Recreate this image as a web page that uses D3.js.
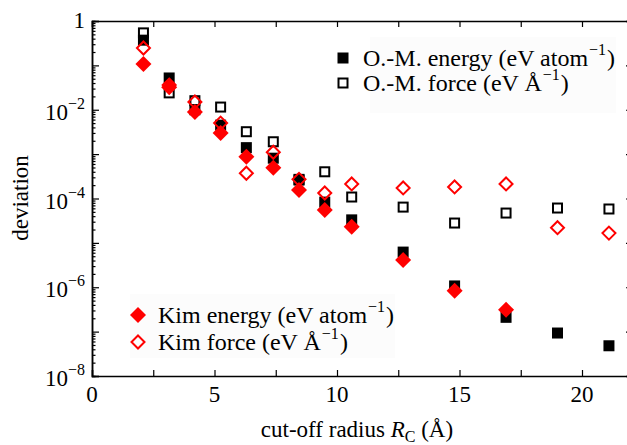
<!DOCTYPE html>
<html>
<head>
<meta charset="utf-8">
<script src="https://cdn.jsdelivr.net/npm/d3@7"></script>
<style>
  body { margin: 0; background: #fff; }
  svg { font-family: "Liberation Serif", "Times New Roman", serif; }
</style>
</head>
<body>
<div id="chart"></div>
<script>
// cut-off radius (Å)
var radii = [2.1, 3.15, 4.2, 5.25, 6.3, 7.4, 8.45, 9.5, 10.6, 12.7, 14.8, 16.9, 19.0, 21.1];

var omEnergy = [0.37, 0.052, 0.01, 0.0045, 0.0014, 0.00081, 0.00026, 8.3e-5, 3.3e-5, 6.2e-6, 1.07e-6, 2.1e-7, 9.3e-8, 4.8e-8];
var omForce = [0.54, 0.024, 0.016, 0.0115, 0.0032, 0.0019, 0.00027, 0.0004, 0.000108, 6.4e-5, 2.8e-5, 4.7e-5, 6.1e-5, 5.8e-5];
var kimEnergy = [0.107, 0.032, 0.0089, 0.003, 0.00087, 0.00049, 0.000155, 5.5e-5, 2.3e-5, 4.1e-6, 8.3e-7, 3.1e-7];
var kimForce = [0.246, 0.036, 0.015, 0.005, 0.00037, 0.0011, 0.00027, 0.000133, 0.000213, 0.000173, 0.000182, 0.000213, 2.2e-5, 1.66e-5];

var xTicks = [0, 5, 10, 15, 20];
var yExponents = [0, -2, -4, -6, -8];

var width = 627, height = 445;
var margin = { left: 92, top: 21, right: -4, bottom: 69 };

var svg = d3.select("#chart").append("svg")
    .attr("width", width)
    .attr("height", height);

var x = d3.scaleLinear().domain([0, 22]).range([margin.left, width - margin.right]);
var y = d3.scaleLog().domain([1e-8, 1]).range([height - margin.bottom, margin.top]);

// faint legend boxes
svg.append("rect").attr("x", 370).attr("y", 37).attr("width", 246).attr("height", 76).attr("fill", "#fcfcfc");
svg.append("rect").attr("x", 130).attr("y", 294).attr("width", 265).attr("height", 64).attr("fill", "#fcfcfc");

// minor/major ticks
var minor = [];
for (var e = -8; e < 0; e++) {
    for (var m = 2; m <= 9; m++) minor.push(m * Math.pow(10, e));
}
var decades = d3.range(-8, 1).map(function (e) { return Math.pow(10, e); });
var xAll = d3.range(0, 22.1, 2.5);

var axes = svg.append("g").attr("class", "axes");

axes.append("g")
    .attr("transform", "translate(0," + y(1e-8) + ")")
    .call(d3.axisBottom(x).tickValues(xAll).tickSize(-6).tickFormat(""));
axes.append("g")
    .attr("transform", "translate(0," + y(1) + ")")
    .call(d3.axisTop(x).tickValues(xAll).tickSize(-6).tickFormat(""));
axes.append("g")
    .attr("transform", "translate(" + x(0) + ",0)")
    .call(d3.axisLeft(y).tickValues(decades).tickSize(-7).tickFormat(""));
axes.append("g")
    .attr("transform", "translate(" + x(0) + ",0)")
    .call(d3.axisLeft(y).tickValues(minor).tickSize(-3.5).tickFormat(""));
axes.append("g")
    .attr("transform", "translate(" + x(22) + ",0)")
    .call(d3.axisRight(y).tickValues(decades).tickSize(-5).tickFormat(""));

axes.selectAll(".domain").attr("stroke", "#000").attr("stroke-width", 1.5);
axes.selectAll(".tick line").attr("stroke", "#000").attr("stroke-width", 1.2);

// x tick labels
svg.append("g").selectAll("text")
    .data(xTicks)
    .enter().append("text")
    .attr("x", function (d) { return x(d); })
    .attr("y", y(1e-8) + 26)
    .attr("text-anchor", "middle")
    .attr("font-size", 23)
    .text(function (d) { return d; });

// y tick labels
var yl = svg.append("g").selectAll("text")
    .data(yExponents)
    .enter().append("text")
    .attr("x", 85)
    .attr("y", function (d) { return y(Math.pow(10, d)) + (d === 0 ? 7 : 10); })
    .attr("text-anchor", "end")
    .attr("font-size", 23);
yl.each(function (d) {
    var t = d3.select(this);
    if (d === 0) { t.text("1"); return; }
    t.append("tspan").text("10");
    t.append("tspan").attr("font-size", 16).attr("dy", -11).text("\u2212" + (-d));
});

// axis titles
svg.append("text")
    .attr("transform", "translate(28," + 198 + ") rotate(-90)")
    .attr("text-anchor", "middle")
    .attr("font-size", 23)
    .text("deviation");

var xt = svg.append("text")
    .attr("x", 357)
    .attr("y", 437)
    .attr("text-anchor", "middle")
    .attr("font-size", 23);
xt.append("tspan").text("cut-off radius ");
xt.append("tspan").attr("font-style", "italic").text("R");
xt.append("tspan").attr("font-size", 16).attr("dy", 5).text("C");
xt.append("tspan").attr("dy", -5).text(" (\u00C5)");

// markers
function squares(data, filled, size) {
    svg.append("g").selectAll("rect")
        .data(data)
        .enter().append("rect")
        .attr("x", function (d, i) { return x(radii[i]) - size / 2; })
        .attr("y", function (d) { return y(d) - size / 2; })
        .attr("width", size)
        .attr("height", size)
        .attr("fill", filled ? "#000" : "none")
        .attr("stroke", "#000")
        .attr("stroke-width", filled ? 0 : 2);
}
function diamonds(data, filled, r) {
    svg.append("g").selectAll("path")
        .data(data)
        .enter().append("path")
        .attr("d", "M0," + (-r) + "L" + r + ",0L0," + r + "L" + (-r) + ",0Z")
        .attr("transform", function (d, i) { return "translate(" + x(radii[i]) + "," + y(d) + ")"; })
        .attr("fill", filled ? "#ff0000" : "none")
        .attr("stroke", "#ff0000")
        .attr("stroke-width", filled ? 0 : 2);
}

squares(omEnergy, true, 11);
squares(omForce, false, 9);
diamonds(kimEnergy, true, 8);
diamonds(kimForce, false, 6.5);

// legends
function legendItem(lx, ly, kind, label, sup) {
    if (kind === "fs") svg.append("rect").attr("x", lx - 5.5).attr("y", ly - 5.5).attr("width", 11).attr("height", 11).attr("fill", "#000");
    if (kind === "os") svg.append("rect").attr("x", lx - 4.5).attr("y", ly - 4.5).attr("width", 9).attr("height", 9).attr("fill", "none").attr("stroke", "#000").attr("stroke-width", 2);
    if (kind === "fd") svg.append("path").attr("d", "M0,-8L8,0L0,8L-8,0Z").attr("transform", "translate(" + lx + "," + ly + ")").attr("fill", "#ff0000");
    if (kind === "od") svg.append("path").attr("d", "M0,-6.5L6.5,0L0,6.5L-6.5,0Z").attr("transform", "translate(" + lx + "," + ly + ")").attr("fill", "none").attr("stroke", "#ff0000").attr("stroke-width", 2);
    var t = svg.append("text").attr("x", lx + 20).attr("y", ly + 8).attr("font-size", 24);
    t.append("tspan").text(label);
    t.append("tspan").attr("font-size", 16).attr("dx", 1).attr("dy", -11).text(sup);
    t.append("tspan").attr("dx", 1).attr("dy", 11).text(")");
}

legendItem(343, 58, "fs", "O.-M. energy (eV atom", "\u22121");
legendItem(343, 83, "os", "O.-M. force (eV \u00C5", "\u22121");
legendItem(138, 315, "fd", "Kim energy (eV atom", "\u22121");
legendItem(138, 342, "od", "Kim force (eV \u00C5", "\u22121");
</script>
</body>
</html>
